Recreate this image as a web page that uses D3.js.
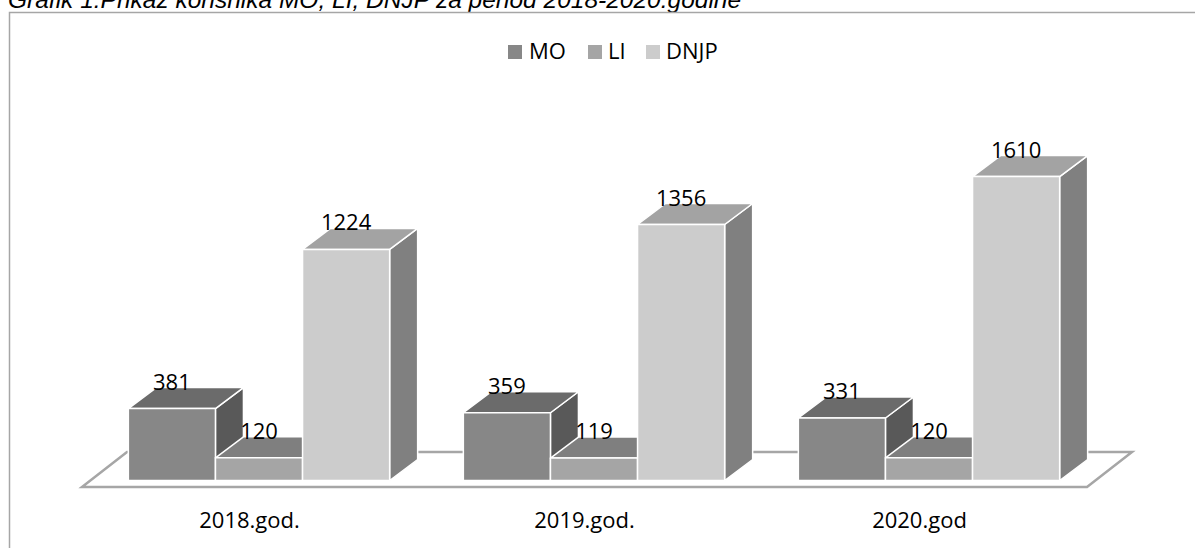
<!DOCTYPE html>
<html>
<head>
<meta charset="utf-8">
<script src="https://cdnjs.cloudflare.com/ajax/libs/d3/7.8.5/d3.min.js"></script>
<style>
  body { margin: 0; background: #fff; }
  svg { display: block; }
  .lbl { font-family: "Open Sans", sans-serif; font-size: 22px; fill: #000; }
</style>
</head>
<body>
<div id="chart"></div>
<script>
// chart data
const categories = ["2018.god.", "2019.god.", "2020.god"];
const seriesNames = ["MO", "LI", "DNJP"];
const moValues = [381, 359, 331];
const liValues = [120, 119, 120];
const dnjpValues = [1224, 1356, 1610];
const titleText = "Grafik 1.Prikaz korisnika MO, LI, DNJP  za period 2018-2020.godine";

function drawChart() {
    const W = 1195, H = 548;
    const valuesBySeries = { MO: moValues, LI: liValues, DNJP: dnjpValues };

    // face colours per series: front, top, side
    const faces = {
        MO:   { front: "#878787", top: "#6b6b6b", side: "#595959" },
        LI:   { front: "#a5a5a5", top: "#7f7f7f", side: "#6e6e6e" },
        DNJP: { front: "#cccccc", top: "#a3a3a3", side: "#808080" }
    };

    const svg = d3.select("#chart").append("svg")
        .attr("width", W).attr("height", H);

    // title (cropped at the top like in the source)
    svg.append("text")
        .attr("x", 8).attr("y", 8)
        .style("font-family", "'Liberation Sans', Arial, sans-serif")
        .style("font-style", "italic")
        .style("font-size", "24.5px")
        .text(titleText);

    // outer frame (only left and top visible)
    svg.append("path")
        .attr("d", `M9.5,${H} L9.5,12.5 L${W},12.5`)
        .attr("fill", "none").attr("stroke", "#a6a6a6").attr("stroke-width", 1.5);

    // --- 3D projection settings ---
    const floorFront = { x0: 82, x1: 1087, y: 487 };
    const floorDepth = { dx: 45, dy: -35 };
    const barShift = { dx: 9.5, dy: -7 };   // bars sit a little back on the floor
    const barDepth = { dx: 28, dy: -21 };

    const xBand = d3.scaleBand().domain(categories)
        .range([floorFront.x0, floorFront.x1])
        .paddingInner(0.22).paddingOuter(0.11);
    const xSeries = d3.scaleBand().domain(seriesNames).range([0, xBand.bandwidth()]);
    const yScale = d3.scaleLinear().domain([0, 1800]).range([480.5, 140.7]);

    // floor
    const f = floorFront, fd = floorDepth;
    svg.append("path")
        .attr("d", `M${f.x0},${f.y} L${f.x1},${f.y} L${f.x1 + fd.dx},${f.y + fd.dy} L${f.x0 + fd.dx},${f.y + fd.dy} Z`)
        .attr("fill", "#fff").attr("stroke", "#a6a6a6").attr("stroke-width", 2.5)
        .attr("stroke-linejoin", "miter");

    // bars, left to right so later bars hide earlier side faces
    const bars = [];
    categories.forEach((c, i) => {
        seriesNames.forEach(s => {
            bars.push({ category: c, series: s, value: valuesBySeries[s][i] });
        });
    });

    const g = svg.append("g");
    bars.forEach(d => {
        const x0 = xBand(d.category) + xSeries(d.series) + barShift.dx;
        const x1 = x0 + xSeries.bandwidth();
        const yb = yScale(0);
        const yt = yScale(d.value);
        const dx = barDepth.dx, dy = barDepth.dy;
        const col = faces[d.series];
        const bg = g.append("g").attr("stroke", "#fff").attr("stroke-width", 1.5).attr("stroke-linejoin", "round");
        // side face
        bg.append("path")
            .attr("d", `M${x1},${yb} L${x1 + dx},${yb + dy} L${x1 + dx},${yt + dy} L${x1},${yt} Z`)
            .attr("fill", col.side);
        // top face
        bg.append("path")
            .attr("d", `M${x0},${yt} L${x1},${yt} L${x1 + dx},${yt + dy} L${x0 + dx},${yt + dy} Z`)
            .attr("fill", col.top);
        // front face
        bg.append("rect")
            .attr("x", x0).attr("y", yt)
            .attr("width", x1 - x0).attr("height", yb - yt)
            .attr("fill", col.front);
        d.labelX = (x0 + x1) / 2;
        d.labelY = yt - 19;
    });

    // data labels
    svg.append("g").selectAll("text")
        .data(bars).join("text")
        .attr("class", "lbl")
        .attr("x", d => d.labelX).attr("y", d => d.labelY)
        .attr("text-anchor", "middle")
        .text(d => d.value);

    // category labels
    svg.append("g").selectAll("text")
        .data(categories).join("text")
        .attr("class", "lbl")
        .attr("x", d => xBand(d) + xBand.bandwidth() / 2)
        .attr("y", 528)
        .attr("text-anchor", "middle")
        .text(d => d);

    // legend
    const legendX = [508, 588, 646];
    const legend = svg.append("g").selectAll("g")
        .data(seriesNames).join("g")
        .attr("transform", (d, i) => `translate(${legendX[i]},45)`);
    legend.append("rect")
        .attr("width", 14).attr("height", 14)
        .attr("fill", d => faces[d].front);
    legend.append("text")
        .attr("class", "lbl")
        .attr("x", d => d === "MO" ? 21 : 20).attr("y", 14)
        .text(d => d);
}

drawChart();
</script>
</body>
</html>
